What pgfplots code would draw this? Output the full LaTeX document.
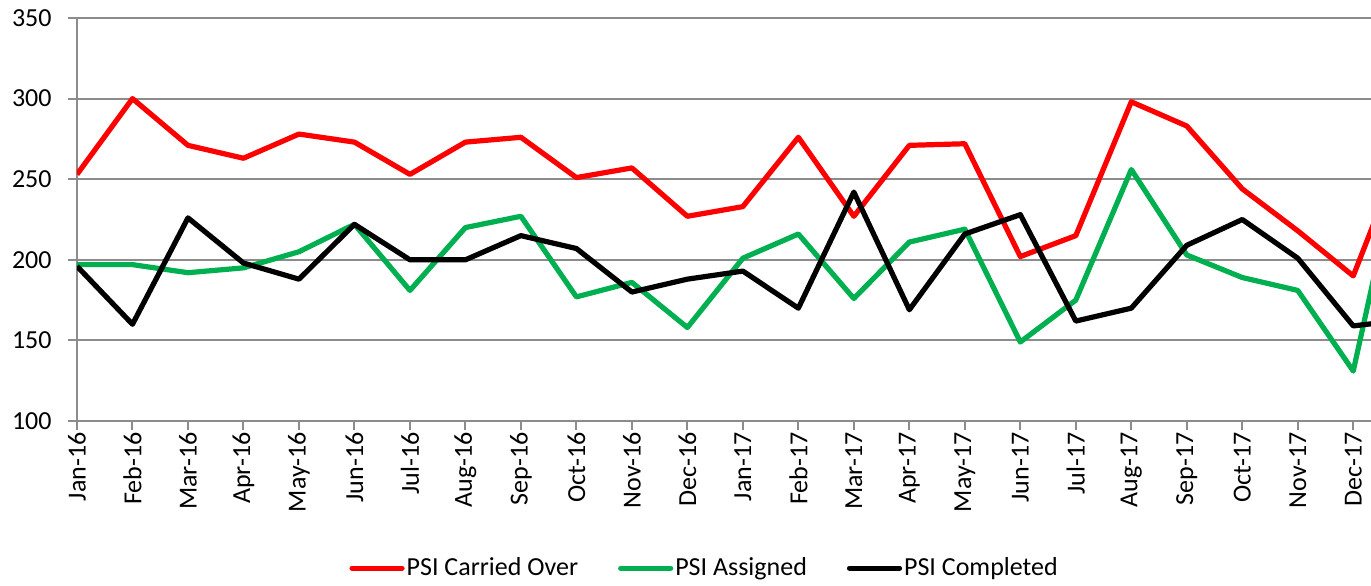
\documentclass[border=0pt]{standalone}
\usepackage{pgfplots}
\pgfplotsset{compat=1.18}
\usepackage{fontspec}
\setmainfont{Carlito}
\definecolor{psired}{HTML}{FF0000}
\definecolor{psigreen}{HTML}{00B050}
\definecolor{gridgray}{HTML}{8C8C8C}

% x = month index (0 = Jan-16), last row is the next month, cut by the plot edge
\pgfplotstableread{
x  carried assigned completed
0  253 197 196
1  300 197 160
2  271 192 226
3  263 195 198
4  278 205 188
5  273 222 222
6  253 181 200
7  273 220 200
8  276 227 215
9  251 177 207
10 257 186 180
11 227 158 188
12 233 201 193
13 276 216 170
14 227 176 242
15 271 211 169
16 272 219 216
17 202 149 228
18 215 175 162
19 298 256 170
20 283 203 209
21 244 189 225
22 218 181 201
23 190 131 159
24 278 287 163
}\psidata

\begin{document}
\begin{tikzpicture}[x=1pt,y=1pt]
\begin{axis}[
    scale only axis,
    width=647pt, height=201.5pt,
    xmin=0, xmax=23.32,
    ymin=100, ymax=350,
    ytick={100,150,...,350},
    xtick={0,...,23},
    xticklabels={Jan-16,Feb-16,Mar-16,Apr-16,May-16,Jun-16,Jul-16,Aug-16,Sep-16,Oct-16,Nov-16,Dec-16,
                 Jan-17,Feb-17,Mar-17,Apr-17,May-17,Jun-17,Jul-17,Aug-17,Sep-17,Oct-17,Nov-17,Dec-17},
    axis x line*=bottom, axis y line*=left,
    axis line style={gridgray, line width=1pt, -},
    tick style={gridgray, line width=1pt},
    tick align=outside,
    major tick length=4.5pt,
    ymajorgrids,
    major grid style={gridgray, line width=1pt},
    tick label style={font=\fontsize{13}{14}\selectfont, black},
    xticklabel style={rotate=90, anchor=east, inner sep=1pt},
    yticklabel style={inner sep=1pt, xshift=-7pt},
    /pgf/number format/assume math mode=true,
    legend columns=3,
    legend style={draw=none, fill=none, at={(0.485,-0.365)}, anchor=center,
        font=\fontsize{13}{14}\selectfont,
        /tikz/every even column/.append style={column sep=19pt},
        nodes={inner sep=1pt}},
    legend image code/.code={\draw[#1, line width=2.6pt, line cap=round] (0pt,0pt) -- (25pt,0pt);},
    every axis plot/.append style={line width=2.6pt, no markers, line join=round},
]
\addplot[psired] table[x=x, y=carried] {\psidata};
\addlegendentry{PSI Carried Over}
\addplot[psigreen] table[x=x, y=assigned] {\psidata};
\addlegendentry{PSI Assigned}
\addplot[black] table[x=x, y=completed] {\psidata};
\addlegendentry{PSI Completed}
\end{axis}
\pgfresetboundingbox
\path[use as bounding box] (-38.5pt,-82pt) rectangle (647pt,210.5pt);
\end{tikzpicture}
\end{document}
